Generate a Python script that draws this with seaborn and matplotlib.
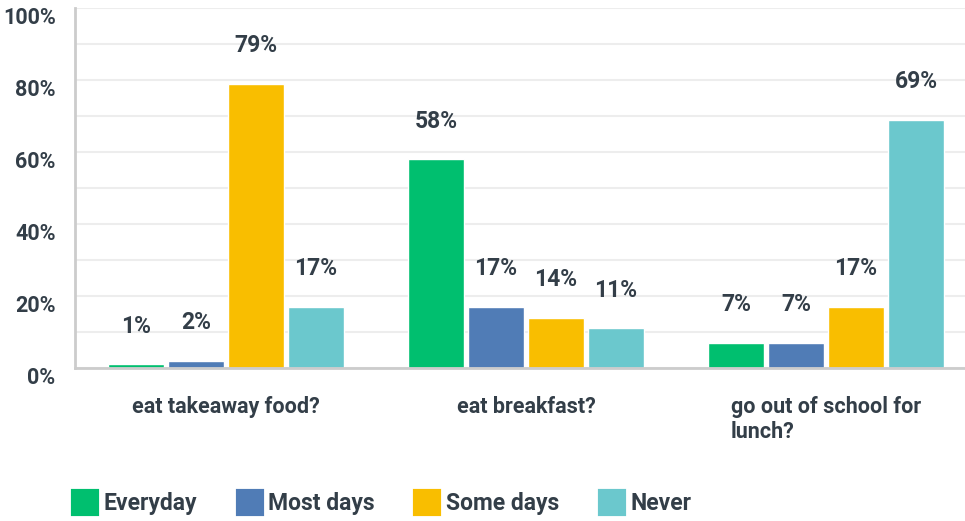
import matplotlib
matplotlib.use("Agg")
import matplotlib.pyplot as plt
import matplotlib.transforms as mtransforms
import seaborn as sns
import pandas as pd
from matplotlib.patches import Patch

questions = ["eat takeaway food?", "eat breakfast?", "go out of school for\nlunch?"]
answers = ["Everyday", "Most days", "Some days", "Never"]
everyday = [1, 58, 7]
most_days = [2, 17, 7]
some_days = [79, 14, 17]
never = [17, 11, 69]
y_ticks = [0, 20, 40, 60, 80, 100]
palette = ["#00BF6F", "#507CB6", "#F9BE00", "#6BC8CD"]

rows = []
for ans, vals in zip(answers, [everyday, most_days, some_days, never]):
    for q, v in zip(questions, vals):
        rows.append({"question": q, "answer": ans, "pct": v})
df = pd.DataFrame(rows)

sns.set_theme(style="white")
plt.rcParams["font.family"] = ["Roboto", "DejaVu Sans"]
text_color = "#333E48"
weight = "semibold"

W, H = 965, 521
fig = plt.figure(figsize=(W / 100, H / 100), dpi=100)
ax = fig.add_axes([75 / W, (H - 368) / H, (W - 75) / W, (368 - 8) / H])

sns.barplot(data=df, x="question", y="pct", hue="answer", order=questions,
            hue_order=answers, palette=palette, width=0.8, gap=0.08,
            saturation=1, legend=False, ax=ax)

ax.set_xlim(-0.503, 2.463)
ax.set_ylim(0, 100)
ax.set_yticks(range(0, 101, 10))
ax.set_yticklabels([f"{t}%" if t in y_ticks else "" for t in range(0, 101, 10)])
ax.yaxis.grid(True, color="#EDEDED", linewidth=1.5)
ax.set_axisbelow(True)
ax.tick_params(axis="y", length=0, pad=14, labelsize=15.5, labelcolor=text_color)
ax.tick_params(axis="x", length=0, pad=20, labelsize=15.5, labelcolor=text_color)
shift_down = mtransforms.ScaledTranslation(0, -7 / 100, fig.dpi_scale_trans)
for lbl in ax.get_yticklabels():
    lbl.set_fontweight(weight)
    lbl.set_transform(lbl.get_transform() + shift_down)
for lbl in ax.get_xticklabels():
    lbl.set_fontweight(weight)
    lbl.set_multialignment("left")
    lbl.set_verticalalignment("top")
ax.set_xlabel("")
ax.set_ylabel("")

for side in ["top", "right"]:
    ax.spines[side].set_visible(False)
for side in ["left", "bottom"]:
    ax.spines[side].set_color("#CCCCCC")
    ax.spines[side].set_linewidth(2)

for container in ax.containers:
    ax.bar_label(container, labels=[f"{v:.0f}%" for v in container.datavalues],
                 padding=19, fontsize=16.5, color=text_color, fontweight=weight)

handles = [Patch(facecolor=c, edgecolor=c, linewidth=3, joinstyle="round", label=a)
           for c, a in zip(palette, answers)]
leg = fig.legend(handles=handles, loc="center left", bbox_to_anchor=(73 / W, (H - 503) / H),
                 ncol=4, frameon=False, fontsize=16.5, handlelength=1.05, handleheight=1.15,
                 handletextpad=0.3, columnspacing=1.75, borderaxespad=0, borderpad=0)
for t in leg.get_texts():
    t.set_color(text_color)
    t.set_fontweight(weight)

fig.savefig("out.png", dpi=100)
